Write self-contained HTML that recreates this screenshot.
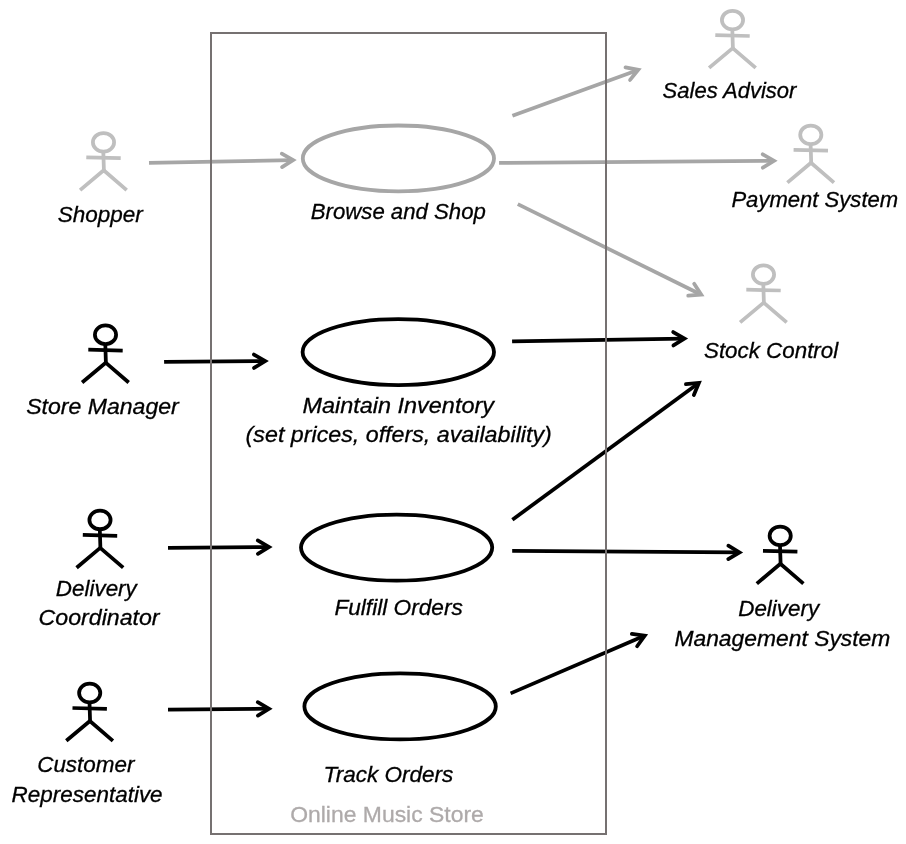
<!DOCTYPE html>
<html><head><meta charset="utf-8"><style>
html,body{margin:0;padding:0;background:#fff;width:906px;height:844px;overflow:hidden}
svg{display:block;will-change:transform}
text{font-family:"Liberation Sans",sans-serif}
</style></head><body>
<svg width="906" height="844" viewBox="0 0 906 844">
<ellipse cx="398.4" cy="158.4" rx="95.6" ry="32.9" fill="none" stroke="#a6a6a6" stroke-width="3.8"/>
<ellipse cx="398.3" cy="352.05" rx="95.7" ry="33" fill="none" stroke="#000000" stroke-width="3.8"/>
<ellipse cx="396.6" cy="547.6" rx="95.6" ry="33" fill="none" stroke="#000000" stroke-width="3.8"/>
<ellipse cx="400.1" cy="706.4" rx="95.7" ry="33" fill="none" stroke="#000000" stroke-width="3.8"/>
<g fill="none" stroke="#bfbfbf" stroke-width="3.75" stroke-linejoin="miter"><ellipse cx="103.5" cy="142.3" rx="10.6" ry="9.3"/><path d="M86.3 157.3L120.7 158.2"/><path d="M103.3 151.6L103.9 170.3"/><path d="M80.1 190.1L103.7 170.3L126.7 190.1"/></g>
<g fill="none" stroke="#000000" stroke-width="3.75" stroke-linejoin="miter"><ellipse cx="105.5" cy="334.7" rx="10.6" ry="9.3"/><path d="M88.3 349.7L122.7 350.6"/><path d="M105.3 344L105.9 362.7"/><path d="M82.1 382.5L105.7 362.7L128.7 382.5"/></g>
<g fill="none" stroke="#000000" stroke-width="3.75" stroke-linejoin="miter"><ellipse cx="100" cy="519.9" rx="10.6" ry="9.3"/><path d="M82.8 534.9L117.2 535.8"/><path d="M99.8 529.2L100.4 547.9"/><path d="M76.6 567.7L100.2 547.9L123.2 567.7"/></g>
<g fill="none" stroke="#000000" stroke-width="3.75" stroke-linejoin="miter"><ellipse cx="89.7" cy="693" rx="10.6" ry="9.3"/><path d="M72.5 708L106.9 708.9"/><path d="M89.5 702.3L90.1 721"/><path d="M66.3 740.8L89.9 721L112.9 740.8"/></g>
<g fill="none" stroke="#bfbfbf" stroke-width="3.75" stroke-linejoin="miter"><ellipse cx="732.5" cy="20.1" rx="10.6" ry="9.3"/><path d="M715.3 35.1L749.7 36"/><path d="M732.3 29.4L732.9 48.1"/><path d="M709.1 67.9L732.7 48.1L755.7 67.9"/></g>
<g fill="none" stroke="#bfbfbf" stroke-width="3.75" stroke-linejoin="miter"><ellipse cx="810.8" cy="134.8" rx="10.6" ry="9.3"/><path d="M793.6 149.8L828 150.7"/><path d="M810.6 144.1L811.2 162.8"/><path d="M787.4 182.6L811 162.8L834 182.6"/></g>
<g fill="none" stroke="#bfbfbf" stroke-width="3.75" stroke-linejoin="miter"><ellipse cx="763.5" cy="274.6" rx="10.6" ry="9.3"/><path d="M746.3 289.6L780.7 290.5"/><path d="M763.3 283.9L763.9 302.6"/><path d="M740.1 322.4L763.7 302.6L786.7 322.4"/></g>
<g fill="none" stroke="#000000" stroke-width="3.75" stroke-linejoin="miter"><ellipse cx="780.2" cy="535.8" rx="10.6" ry="9.3"/><path d="M763 550.8L797.4 551.7"/><path d="M780 545.1L780.6 563.8"/><path d="M756.8 583.6L780.4 563.8L803.4 583.6"/></g>
<g fill="none" stroke="#a6a6a6" stroke-width="3.75"><path d="M149 162.9L292.1 160.18"/><path d="M282.03 167.07L293.1 160.16L281.78 153.67" stroke-linecap="round" stroke-linejoin="miter" stroke-miterlimit="10"/></g>
<g fill="none" stroke="#a6a6a6" stroke-width="3.75"><path d="M512.4 115.75L637.35 70.14"/><path d="M630.07 79.93L638.29 69.8L625.48 67.34" stroke-linecap="round" stroke-linejoin="miter" stroke-miterlimit="10"/></g>
<g fill="none" stroke="#a6a6a6" stroke-width="3.75"><path d="M499.05 162.9L773 160.88"/><path d="M762.85 167.66L774 160.87L762.75 154.26" stroke-linecap="round" stroke-linejoin="miter" stroke-miterlimit="10"/></g>
<g fill="none" stroke="#a6a6a6" stroke-width="3.75"><path d="M517.8 204.1L700.33 294.24"/><path d="M688.22 295.73L701.23 294.68L694.16 283.72" stroke-linecap="round" stroke-linejoin="miter" stroke-miterlimit="10"/></g>
<g fill="none" stroke="#000000" stroke-width="3.75"><path d="M164.1 361.9L264.2 361.13"/><path d="M254.05 367.91L265.2 361.12L253.95 354.51" stroke-linecap="round" stroke-linejoin="miter" stroke-miterlimit="10"/></g>
<g fill="none" stroke="#000000" stroke-width="3.75"><path d="M512.1 341.3L683.5 338.57"/><path d="M673.41 345.43L684.5 338.55L673.2 332.03" stroke-linecap="round" stroke-linejoin="miter" stroke-miterlimit="10"/></g>
<g fill="none" stroke="#000000" stroke-width="3.75"><path d="M168 547.9L268 547.04"/><path d="M257.86 553.82L269 547.03L257.74 540.42" stroke-linecap="round" stroke-linejoin="miter" stroke-miterlimit="10"/></g>
<g fill="none" stroke="#000000" stroke-width="3.75"><path d="M168 709.7L268 708.74"/><path d="M257.86 715.54L269 708.73L257.74 702.14" stroke-linecap="round" stroke-linejoin="miter" stroke-miterlimit="10"/></g>
<g fill="none" stroke="#000000" stroke-width="3.75"><path d="M512.4 519.7L698.11 383.58"/><path d="M693.85 395.02L698.92 382.99L685.92 384.21" stroke-linecap="round" stroke-linejoin="miter" stroke-miterlimit="10"/></g>
<g fill="none" stroke="#000000" stroke-width="3.75"><path d="M512.2 550.85L738.5 552.47"/><path d="M728.25 559.1L739.5 552.48L728.35 545.7" stroke-linecap="round" stroke-linejoin="miter" stroke-miterlimit="10"/></g>
<g fill="none" stroke="#000000" stroke-width="3.75"><path d="M510.6 693.4L643.84 636.06"/><path d="M637.12 646.25L644.76 635.66L631.82 633.94" stroke-linecap="round" stroke-linejoin="miter" stroke-miterlimit="10"/></g>
<text x="57.8" y="221.5" font-size="22.5" font-style="italic" fill="#000" stroke="#000" stroke-width="0.3" textLength="85" lengthAdjust="spacingAndGlyphs">Shopper</text>
<text x="310.8" y="218.8" font-size="22.5" font-style="italic" fill="#000" stroke="#000" stroke-width="0.3" textLength="175" lengthAdjust="spacingAndGlyphs">Browse and Shop</text>
<text x="662.6" y="98.3" font-size="22.5" font-style="italic" fill="#000" stroke="#000" stroke-width="0.3" textLength="133.8" lengthAdjust="spacingAndGlyphs">Sales Advisor</text>
<text x="731.4" y="207" font-size="22.5" font-style="italic" fill="#000" stroke="#000" stroke-width="0.3" textLength="166.8" lengthAdjust="spacingAndGlyphs">Payment System</text>
<text x="704" y="357.8" font-size="22.5" font-style="italic" fill="#000" stroke="#000" stroke-width="0.3" textLength="134.2" lengthAdjust="spacingAndGlyphs">Stock Control</text>
<text x="26.2" y="413.9" font-size="22.5" font-style="italic" fill="#000" stroke="#000" stroke-width="0.3" textLength="152.6" lengthAdjust="spacingAndGlyphs">Store Manager</text>
<text x="302.4" y="413.3" font-size="22.5" font-style="italic" fill="#000" stroke="#000" stroke-width="0.3" textLength="191.6" lengthAdjust="spacingAndGlyphs">Maintain Inventory</text>
<text x="245.6" y="442.2" font-size="22.5" font-style="italic" fill="#000" stroke="#000" stroke-width="0.3" textLength="306.2" lengthAdjust="spacingAndGlyphs">(set prices, offers, availability)</text>
<text x="55.8" y="596.4" font-size="22.5" font-style="italic" fill="#000" stroke="#000" stroke-width="0.3" textLength="81" lengthAdjust="spacingAndGlyphs">Delivery</text>
<text x="38.6" y="625.4" font-size="22.5" font-style="italic" fill="#000" stroke="#000" stroke-width="0.3" textLength="121" lengthAdjust="spacingAndGlyphs">Coordinator</text>
<text x="334.4" y="614.8" font-size="22.5" font-style="italic" fill="#000" stroke="#000" stroke-width="0.3" textLength="128.4" lengthAdjust="spacingAndGlyphs">Fulfill Orders</text>
<text x="37.2" y="772.3" font-size="22.5" font-style="italic" fill="#000" stroke="#000" stroke-width="0.3" textLength="97.2" lengthAdjust="spacingAndGlyphs">Customer</text>
<text x="11.6" y="801.5" font-size="22.5" font-style="italic" fill="#000" stroke="#000" stroke-width="0.3" textLength="151" lengthAdjust="spacingAndGlyphs">Representative</text>
<text x="323.6" y="781.6" font-size="22.5" font-style="italic" fill="#000" stroke="#000" stroke-width="0.3" textLength="129.8" lengthAdjust="spacingAndGlyphs">Track Orders</text>
<text x="290.2" y="821.6" font-size="22.5" font-style="normal" fill="#aeaaaa" stroke="#aeaaaa" stroke-width="0.3" textLength="193.6" lengthAdjust="spacingAndGlyphs">Online Music Store</text>
<text x="738.2" y="616.3" font-size="22.5" font-style="italic" fill="#000" stroke="#000" stroke-width="0.3" textLength="81" lengthAdjust="spacingAndGlyphs">Delivery</text>
<text x="674.4" y="645.7" font-size="22.5" font-style="italic" fill="#000" stroke="#000" stroke-width="0.3" textLength="216" lengthAdjust="spacingAndGlyphs">Management System</text>
<rect x="211" y="33" width="395" height="801" fill="none" stroke="#767171" stroke-width="2"/>
</svg>
</body></html>
